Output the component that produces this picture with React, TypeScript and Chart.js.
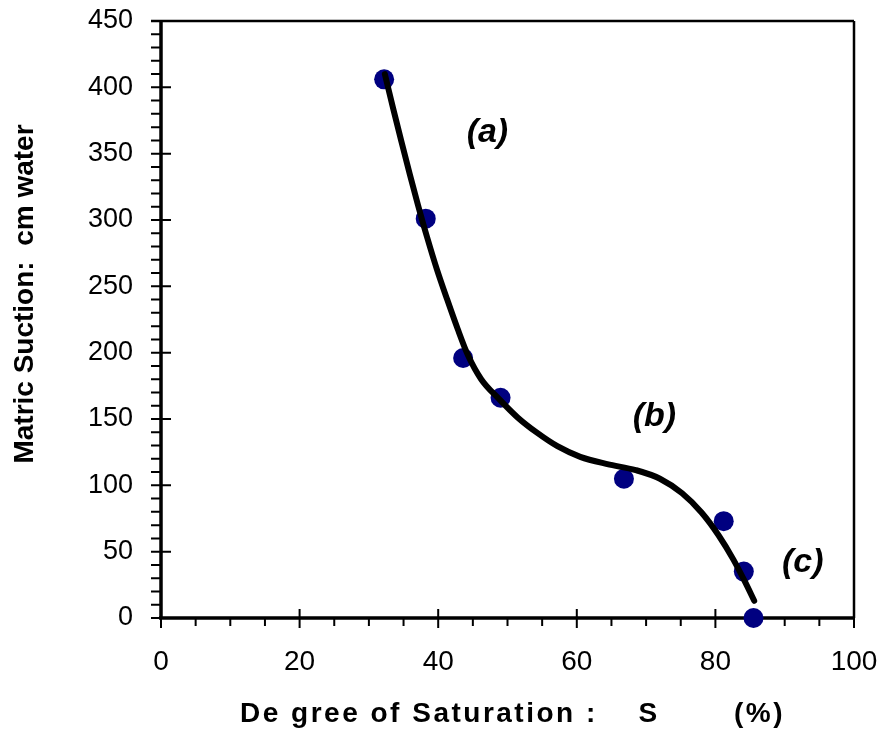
import React, { useEffect, useRef } from "react";
import { Chart, registerables } from "chart.js";

Chart.register(...registerables);

// Measured points: degree of saturation S (%) vs matric suction (cm water)
const pointS = [32.2, 38.2, 43.6, 49.0, 66.8, 81.2, 84.1, 85.5];
const pointSuction = [406, 301, 196, 166, 105, 73, 35, 0];

// Fitted curve
const curveS = [32.3, 33.5, 34.7, 35.9, 37.1, 38.4, 39.8, 41.3, 42.8, 44.3, 46.2, 48.8, 51.5, 54.3, 57.2, 60.5, 64.4, 68.5, 72.0, 75.2, 78.0, 80.5, 82.6, 84.3, 85.6];
const curveSuction = [410, 384, 359, 334.5, 311, 287, 263, 240, 218, 198, 180, 165, 151, 139.5, 129.5, 121.5, 116, 111.5, 105, 94, 79.5, 62, 44, 27, 13];

// Annotations
const noteText = ["(a)", "(b)", "(c)"];
const noteS = [47.1, 71.2, 92.6];
const noteSuction = [366, 152, 42];

const xTitleParts = ["De gree of Saturation :", "S", "(%)"];
const yTitle = "Matric Suction:  cm water";

const FONT = "'Liberation Sans', Arial, Helvetica, sans-serif";

const decorPlugin = {
  id: "decor",
  beforeDatasetsDraw(chart: any) {
    const { ctx, chartArea: a, scales } = chart;
    const x = scales.x;
    const y = scales.y;
    ctx.save();
    ctx.strokeStyle = "#000";
    ctx.lineWidth = 2;
    ctx.beginPath();
    for (let v = 0; v <= 450; v += 10) {
      const py = y.getPixelForValue(v);
      const major = v % 50 === 0;
      ctx.moveTo(a.left - 10, py);
      ctx.lineTo(major ? a.left + 10 : a.left, py);
    }
    for (let v = 0; v <= 100; v += 5) {
      const px = x.getPixelForValue(v);
      const major = v % 20 === 0;
      ctx.moveTo(px, major ? a.bottom - 9 : a.bottom);
      ctx.lineTo(px, a.bottom + (major ? 10 : 8));
    }
    ctx.stroke();
    // frame
    ctx.lineWidth = 2.5;
    ctx.beginPath();
    ctx.moveTo(a.left - 10, a.top);
    ctx.lineTo(a.right, a.top);
    ctx.moveTo(a.right, a.top);
    ctx.lineTo(a.right, a.bottom);
    ctx.stroke();
    ctx.lineWidth = 3.5;
    ctx.beginPath();
    ctx.moveTo(a.left, a.top);
    ctx.lineTo(a.left, a.bottom);
    ctx.moveTo(a.left - 2, a.bottom);
    ctx.lineTo(a.right + 1, a.bottom);
    ctx.stroke();
    ctx.restore();
  },
  afterDraw(chart: any) {
    const { ctx, scales } = chart;
    const x = scales.x;
    const y = scales.y;
    ctx.save();
    ctx.fillStyle = "#000";
    // annotations
    ctx.font = `italic bold 34px ${FONT}`;
    ctx.textAlign = "center";
    ctx.textBaseline = "middle";
    noteText.forEach((t, i) => {
      ctx.fillText(t, x.getPixelForValue(noteS[i]), y.getPixelForValue(noteSuction[i]));
    });
    // x title
    ctx.font = `bold 28px ${FONT}`;
    ctx.textBaseline = "alphabetic";
    try { (ctx as any).letterSpacing = "2.5px"; } catch (e) {}
    ctx.textAlign = "left";
    ctx.fillText(xTitleParts[0], 240, 722);
    ctx.textAlign = "center";
    ctx.fillText(xTitleParts[1], 649, 722);
    ctx.textAlign = "left";
    ctx.fillText(xTitleParts[2], 734, 722);
    try { (ctx as any).letterSpacing = "0px"; } catch (e) {}
    // y title
    ctx.translate(33, 294);
    ctx.rotate(-Math.PI / 2);
    ctx.textAlign = "center";
    ctx.fillText(yTitle, 0, 0);
    ctx.restore();
  },
};

export default function App() {
  const ref = useRef<HTMLCanvasElement | null>(null);
  useEffect(() => {
    document.body.style.margin = "0";
    const canvas = ref.current;
    if (!canvas) return;
    const chart = new Chart(canvas, {
      type: "scatter",
      data: {
        datasets: [
          {
            type: "line",
            label: "curve",
            data: curveS.map((s, i) => ({ x: s, y: curveSuction[i] })),
            borderColor: "#000",
            borderWidth: 6,
            borderCapStyle: "round",
            borderJoinStyle: "round",
            pointRadius: 0,
            cubicInterpolationMode: "monotone",
            fill: false,
            order: 0,
            clip: false,
          } as any,
          {
            type: "scatter",
            label: "data",
            data: pointS.map((s, i) => ({ x: s, y: pointSuction[i] })),
            backgroundColor: "#000080",
            borderColor: "#000080",
            borderWidth: 0,
            pointRadius: 10,
            order: 1,
            clip: false,
          } as any,
        ],
      },
      options: {
        responsive: false,
        animation: false,
        devicePixelRatio: 1,
        layout: { padding: { top: 21, right: 29, left: 0, bottom: 0 } },
        plugins: { legend: { display: false }, tooltip: { enabled: false }, title: { display: false } },
        scales: {
          x: {
            type: "linear",
            min: 0,
            max: 100,
            grid: { display: false, drawTicks: false },
            border: { display: false },
            ticks: { stepSize: 20, color: "#000", padding: 27, font: { family: FONT, size: 28 } },
            afterFit: (s: any) => { s.height = 115; s.paddingLeft = 0; s.paddingRight = 0; },
          },
          y: {
            type: "linear",
            min: 0,
            max: 450,
            grid: { display: false, drawTicks: false },
            border: { display: false },
            ticks: { stepSize: 50, color: "#000", padding: 28, font: { family: FONT, size: 27 } },
            afterFit: (s: any) => { s.width = 161; s.paddingTop = 0; s.paddingBottom = 0; },
          },
        },
      },
      plugins: [decorPlugin],
    });
    return () => chart.destroy();
  }, []);
  return <canvas ref={ref} width={883} height={733} style={{ display: "block" }} />;
}
